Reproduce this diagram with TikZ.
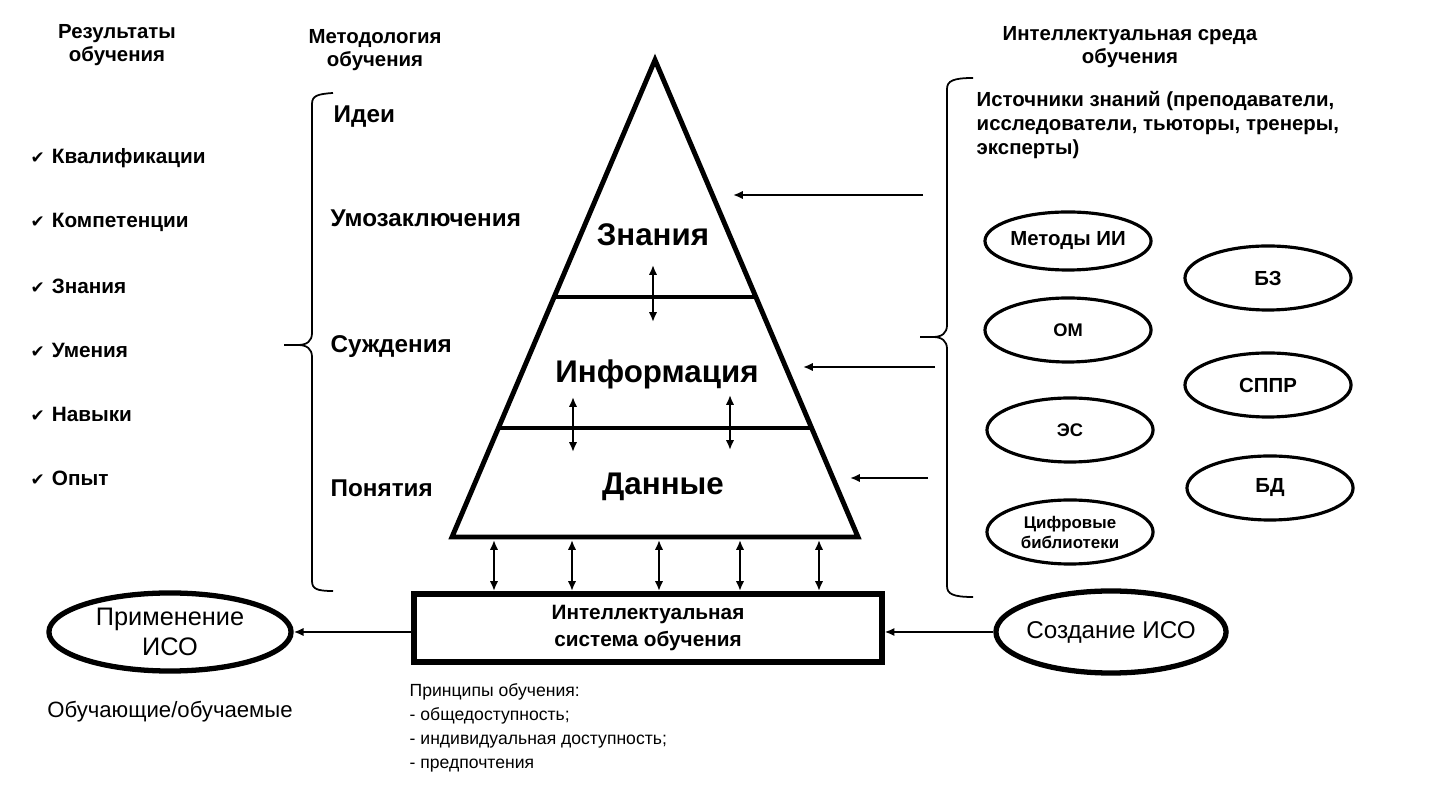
\documentclass[tikz,border=0pt]{standalone}
\usepackage{fontspec}
\setmainfont{Liberation Sans}
\newfontfamily\checkfont{DejaVu Sans}
\usetikzlibrary{arrows.meta, shapes.geometric}

\newcommand{\chk}{{\checkfont\fontsize{4.8}{5}\selectfont ✔}\hspace{2pt}}

\tikzset{
  every node/.style={inner sep=0pt},
  pyr/.style={line width=1.4pt},
  tip/.style={-{Latex[length=2.8pt,width=2.4pt]}, line width=0.6pt},
  dbl/.style={{Latex[length=2.8pt,width=2.4pt]}-{Latex[length=2.8pt,width=2.4pt]}, line width=0.6pt},
  brace/.style={line width=0.5pt},
  head/.style={font=\bfseries\fontsize{5.8}{6.6}\selectfont, align=center},
  item/.style={font=\bfseries\fontsize{5.9}{7}\selectfont, anchor=west},
  level/.style={font=\bfseries\fontsize{6.9}{8}\selectfont, anchor=west},
  layer/.style={font=\bfseries\fontsize{8.9}{10}\selectfont},
  src/.style={ellipse, draw, line width=0.9pt, minimum width=1.66cm,
    minimum height=0.64cm, align=center, font=\bfseries\fontsize{5.8}{6.6}\selectfont},
  bigell/.style={ellipse, draw, line width=1.5pt, align=center, inner ysep=-4pt,
    font=\fontsize{7.2}{8.5}\selectfont}
}

\begin{document}
\begin{tikzpicture}[x=0.01cm, y=-0.01cm]
  \useasboundingbox (0,0) rectangle (1455,801);

  % Headings
  \node[head] (resT) at (117,45) {Результаты\\обучения};
  \node[head] (metT) at (375,50) {Методология\\обучения};
  \node[head] (envT) at (1130,47) {Интеллектуальная среда\\обучения};

  % Learning outcomes
  \foreach \t [count=\i] in {Квалификации, Компетенции, Знания, Умения, Навыки, Опыт}
    \node[item] (res\i) at (30,{158+64*(\i-1)}) {\chk\t};

  % Methodology levels
  \node[level] (idea) at (333,117) {Идеи};
  \node[level] (infer) at (330,218) {Умозаключения};
  \node[level] (judge) at (330,347) {Суждения};
  \node[level] (notion) at (330,488) {Понятия};

  % Left brace
  \draw[brace] (284,345) -- (298,345) .. controls (307,345) and (312,341) .. (312,333)
    -- (312,104) .. controls (312,96) and (317,94) .. (333,93);
  \draw[brace] (298,345) .. controls (307,345) and (312,349) .. (312,357)
    -- (312,581) .. controls (312,589) and (317,591) .. (333,591);

  % Pyramid
  \coordinate (top) at (655,60);
  \coordinate (BL) at (452,537);
  \coordinate (BR) at (858,537);
  \draw[pyr] (top) -- (BR) -- (BL) -- cycle;
  \draw[pyr] (554,297) -- (756,297);
  \draw[pyr] (498,428) -- (812,428);
  \node[layer] (know) at (653,235) {Знания};
  \node[layer] (info) at (657,374) {Информация};
  \node[layer] (data) at (663,487) {Данные};
  \draw[dbl] (653,265) -- (653,322);
  \draw[dbl] (573,397) -- (573,452);
  \draw[dbl] (730,395) -- (730,450);

  % Learning system
  \node[draw, line width=1.7pt, minimum width=4.67cm, minimum height=0.68cm,
    align=center, font=\bfseries\fontsize{5.9}{7.7}\selectfont] (sys) at (648,628)
    {Интеллектуальная\\система обучения};
  \foreach \x in {494,572,659,740,819}
    \draw[dbl] (\x,540) -- (\x,0 |- sys.north);

  \node[bigell, minimum width=2.42cm, minimum height=0.78cm] (app) at (170,632)
    {Применение\\ИСО};
  \node[bigell, inner xsep=-6pt, minimum width=2.3cm, minimum height=0.82cm,
    font=\fontsize{6.9}{8}\selectfont] (make) at (1111,632) {Создание ИСО};
  \draw[tip] (sys.west |- app) -- (app.east);
  \draw[tip] (make.west) -- (make.west -| sys.east);

  \node[font=\fontsize{6.3}{7}\selectfont] (users) at (170,712) {Обучающие/обучаемые};
  \node[anchor=west, align=left, font=\fontsize{5}{6.8}\selectfont] (princ) at (409,728)
    {Принципы обучения:\\- общедоступность;\\- индивидуальная доступность;\\- предпочтения};

  % Learning environment
  \node[anchor=west, align=left, font=\bfseries\fontsize{5.8}{6.7}\selectfont] (srcT)
    at (976,125) {Источники знаний (преподаватели,\\исследователи, тьюторы, тренеры,\\эксперты)};
  \node[src, minimum height=0.58cm] (ai) at (1068,241) {Методы ИИ};
  \node[src, font=\bfseries\fontsize{5.2}{6}\selectfont] (om) at (1068,330) {ОМ};
  \node[src, font=\bfseries\fontsize{5.2}{6}\selectfont] (es) at (1070,430) {ЭС};
  \node[src, font=\bfseries\fontsize{4.8}{5.7}\selectfont] (lib) at (1070,532)
    {Цифровые\\библиотеки};
  \node[src] (kb) at (1268,278) {БЗ};
  \node[src] (dss) at (1268,385) {СППР};
  \node[src] (db) at (1270,488) {БД};

  % Right brace
  \draw[brace] (920,337) -- (933,337) .. controls (942,337) and (947,333) .. (947,325)
    -- (947,89) .. controls (947,81) and (953,78) .. (973,78);
  \draw[brace] (933,337) .. controls (942,337) and (947,341) .. (947,349)
    -- (947,586) .. controls (947,594) and (953,597) .. (973,597);

  % Inputs into the pyramid
  \coordinate (in1) at (923,195);
  \coordinate (in2) at (935,367);
  \coordinate (in3) at (928,478);
  \draw[tip] (in1) -- (733,195);
  \draw[tip] (in2) -- (803,367);
  \draw[tip] (in3) -- (850,478);
\end{tikzpicture}
\end{document}
